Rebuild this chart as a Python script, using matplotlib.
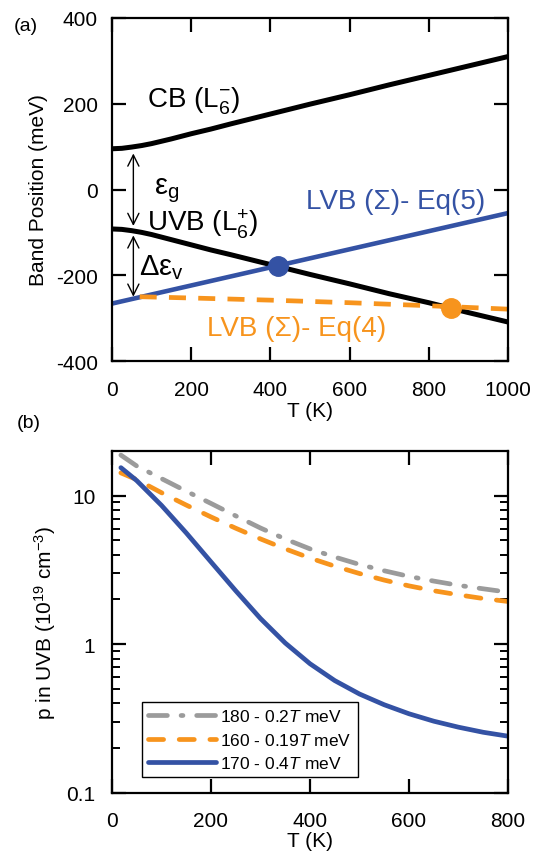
import matplotlib
matplotlib.use('Agg')
import matplotlib.pyplot as plt
from matplotlib.ticker import LogLocator, NullFormatter, FixedLocator, FixedFormatter

plt.rcParams['font.family'] = ['Liberation Sans', 'DejaVu Sans']
plt.rcParams['mathtext.fontset'] = 'custom'
plt.rcParams['mathtext.rm'] = 'Liberation Sans'
plt.rcParams['mathtext.it'] = 'Liberation Sans:italic'
plt.rcParams['axes.unicode_minus'] = False

# ---- panel (a): band positions ----
t_a = [0, 25, 50, 75, 100, 150, 200, 250, 300, 400, 500, 600, 700, 800, 900, 1000]
e_cb = [95, 96, 99, 102.5, 107, 118, 130, 141, 153, 176, 199, 221, 244, 266, 288, 310]
e_uvb = [-92, -93, -96, -100, -105, -117, -129, -141, -152, -175, -198, -220, -243,
         -264, -287, -309]
t_lvb5 = [0, 1000]
e_lvb5 = [-266, -55]
t_lvb4 = [70, 200, 400, 600, 800, 1000]
e_lvb4 = [-250, -253, -258, -264, -271, -279]
cross_t = [420, 856]
cross_e = [-178, -276]

# ---- panel (b): hole density in UVB ----
t_b = [18, 50, 100, 150, 200, 250, 300, 350, 400, 450, 500, 550, 600, 650, 700, 750, 800]
p_gray = [18.7, 15.8, 13.0, 10.7, 8.85, 7.3, 6.05, 5.1, 4.38, 3.86, 3.44, 3.12, 2.86,
          2.66, 2.49, 2.36, 2.24]
p_orange = [14.2, 12.8, 10.45, 8.63, 7.18, 6.03, 5.11, 4.38, 3.80, 3.35, 2.99, 2.70, 2.47,
            2.29, 2.15, 2.03, 1.94]
p_blue = [15.4, 12.6, 8.59, 5.61, 3.58, 2.29, 1.49, 1.02, 0.74, 0.57, 0.463, 0.392, 0.341,
          0.304, 0.277, 0.256, 0.241]
labels_b = ['180 - 0.2$\\mathit{T}$ meV', '160 - 0.19$\\mathit{T}$ meV', '170 - 0.4$\\mathit{T}$ meV']

blue = '#3452a4'
orange = '#f7941d'
gray = '#9b9b9b'

fig = plt.figure(figsize=(5.42, 8.62), dpi=100)
ax1 = fig.add_axes([0.2066, 0.580, 0.7306, 0.398])
ax2 = fig.add_axes([0.2066, 0.0789, 0.7306, 0.397])

for ax in (ax1, ax2):
    for s in ax.spines.values():
        s.set_linewidth(1.6)
    ax.tick_params(which='major', direction='in', length=10, width=1.6,
                   top=True, right=True, labelsize=15)
    ax.tick_params(which='minor', direction='in', length=6, width=1.4,
                   top=True, right=True)

# panel (a)
ax1.plot(t_a, e_cb, color='black', lw=3.6)
ax1.plot(t_a, e_uvb, color='black', lw=3.6)
ax1.plot(t_lvb5, e_lvb5, color=blue, lw=3.3)
ax1.plot(t_lvb4, e_lvb4, color=orange, lw=3.4, dashes=(3.6, 2.6))
ax1.plot(cross_t[0], cross_e[0], 'o', color=blue, ms=14)
ax1.plot(cross_t[1], cross_e[1], 'o', color=orange, ms=14)
ax1.set_xlim(0, 1000)
ax1.set_ylim(-400, 400)
ax1.set_xticks([0, 200, 400, 600, 800, 1000])
ax1.set_yticks([-400, -200, 0, 200, 400])
ax1.tick_params(axis='x', pad=14)
ax1.tick_params(axis='y', pad=10)
ax1.set_xlabel('T (K)', fontsize=15, labelpad=1)
ax1.set_ylabel('Band Position (meV)', fontsize=15, labelpad=6)

ax1.annotate('', xy=(54, 84), xytext=(54, -85),
             arrowprops=dict(arrowstyle='<->', color='black', lw=1, mutation_scale=20,
                             shrinkA=0, shrinkB=0))
ax1.annotate('', xy=(54, -107), xytext=(54, -250),
             arrowprops=dict(arrowstyle='<->', color='black', lw=1, mutation_scale=20,
                             shrinkA=0, shrinkB=0))
ax1.text(88, 207, 'CB (L$_\\mathregular{6}^\\mathregular{-}$)', fontsize=20, va='center')
ax1.text(105, 0, 'ε$_\\mathregular{g}$', fontsize=21, va='center')
ax1.text(88, -80, 'UVB (L$_\\mathregular{6}^\\mathregular{+}$)', fontsize=20, va='center')
ax1.text(68, -180, 'Δε$_\\mathregular{v}$', fontsize=21, va='center')
ax1.text(490, -26, 'LVB (Σ)- Eq(5)', fontsize=20, va='center', color=blue)
ax1.text(240, -322, 'LVB (Σ)- Eq(4)', fontsize=20, va='center', color=orange)
fig.text(0.026, 0.979, '(a)', fontsize=14, va='top')

# panel (b)
l1, = ax2.plot(t_b, p_gray, color=gray, lw=3.4, dashes=(4.0, 2.9, 0.4, 2.9),
               dash_capstyle='round')
l2, = ax2.plot(t_b, p_orange, color=orange, lw=3.4, dashes=(3.2, 3.3),
               dash_capstyle='round')
l3, = ax2.plot(t_b, p_blue, color=blue, lw=3.4, solid_capstyle='round')
ax2.set_yscale('log')
ax2.set_xlim(0, 800)
ax2.set_ylim(0.1, 20)
ax2.set_xticks([0, 200, 400, 600, 800])
ax2.yaxis.set_major_locator(FixedLocator([0.1, 1, 10]))
ax2.yaxis.set_major_formatter(FixedFormatter(['0.1', '1', '10']))
ax2.yaxis.set_minor_locator(LogLocator(base=10, subs=range(2, 10)))
ax2.yaxis.set_minor_formatter(NullFormatter())
ax2.tick_params(axis='x', pad=13)
ax2.tick_params(axis='y', pad=12)
ax2.set_xlabel('T (K)', fontsize=15, labelpad=1)
ax2.set_ylabel('p in UVB (10$^\\mathregular{19}$ cm$^\\mathregular{-3}$)', fontsize=15, labelpad=6)
leg = ax2.legend([l1, l2, l3], labels_b, loc='lower left',
                 bbox_to_anchor=(0.0758, 0.0468), borderaxespad=0, fontsize=12.5,
                 handlelength=3.9, handletextpad=0.25, labelspacing=0.42,
                 borderpad=0.35, fancybox=False, framealpha=1, edgecolor='black')
leg.get_frame().set_linewidth(1.0)
fig.text(0.031, 0.518, '(b)', fontsize=14, va='top')

fig.savefig('out.png', dpi=100)
